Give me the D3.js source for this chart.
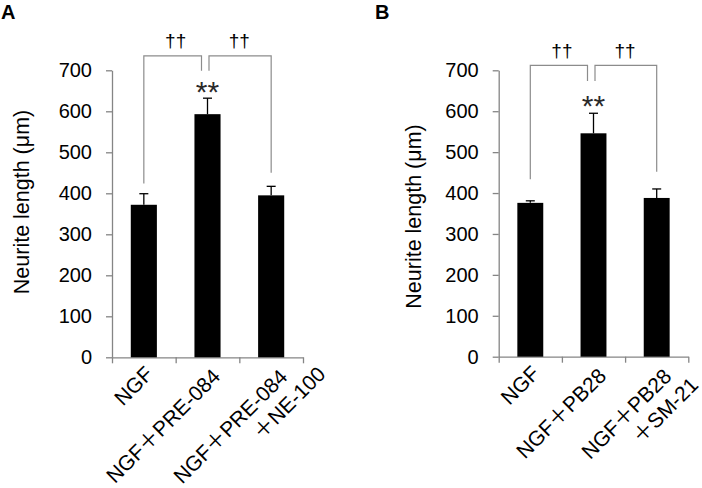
<!DOCTYPE html>
<html><head><meta charset="utf-8">
<script src="https://cdn.jsdelivr.net/npm/d3@7"></script>
<style>
html,body{margin:0;padding:0;background:#fff;}
svg{display:block;}
text{font-family:"Liberation Sans",Arial,"Noto Sans CJK JP",sans-serif;}
</style></head>
<body>
<svg id="chart" width="702" height="488"></svg>
<script>
// ---- data ----
const categoriesA = ["NGF", "NGF＋PRE-084", "NGF＋PRE-084\n＋NE-100"];
const valuesA = [372, 593, 395];
const errorsA = [27, 39, 22];
const starsA = ["", "**", ""];
const bracketsA = [[0, 1, 424, 699], [1, 2, 699, 450]]; // from, to, leg-end values
const bracketTopA = 735;

const categoriesB = ["NGF", "NGF＋PB28", "NGF＋PB28\n＋SM-21"];
const valuesB = [376, 546, 388];
const errorsB = [5, 49, 22];
const starsB = ["", "**", ""];
const bracketsB = [[0, 1, 434, 674], [1, 2, 674, 452]];
const bracketTopB = 712;

const yTicks = [0, 100, 200, 300, 400, 500, 600, 700];
const yTitle = "Neurite length (μm)";
const sigLabel = "††";
const panelLetters = ["A", "B"];

const svg = d3.select("#chart");
const axisColor = "#858585";

function panel(cfg) {
  const g = svg.append("g");
  const y = d3.scaleLinear().domain([0, 700]).range([cfg.y0, cfg.y1]);
  const x = d3.scaleBand().domain(d3.range(cfg.cats.length))
    .range([cfg.x0, cfg.x1]).paddingInner(0.59).paddingOuter(0.295);
  const xb = d3.scaleLinear().domain([0, cfg.cats.length]).range([cfg.x0, cfg.x1]);
  const cx = i => x(i) + x.bandwidth() / 2;

  // y axis
  const ya = g.append("g").attr("transform", `translate(${cfg.x0},0)`)
    .call(d3.axisLeft(y).tickValues(yTicks).tickSize(6).tickSizeOuter(0).tickPadding(14));
  ya.selectAll("path,line").attr("stroke", axisColor).attr("stroke-width", 1.3);
  ya.selectAll("text").attr("font-size", 20).attr("fill", "#000")
    .attr("font-family", '"Liberation Sans",Arial,sans-serif');

  // x axis (ticks at category boundaries)
  const xa = g.append("g").attr("transform", `translate(0,${cfg.y0})`)
    .call(d3.axisBottom(xb).tickValues(d3.range(cfg.cats.length + 1)).tickSize(6).tickSizeOuter(0).tickFormat(""));
  xa.selectAll("path,line").attr("stroke", axisColor).attr("stroke-width", 1.3);

  // bars
  g.selectAll("rect.bar").data(cfg.vals).join("rect")
    .attr("x", (d, i) => x(i)).attr("width", x.bandwidth())
    .attr("y", d => y(d)).attr("height", d => y(0) - y(d)).attr("fill", "#000");

  // error bars
  cfg.vals.forEach((v, i) => {
    g.append("line").attr("x1", cx(i)).attr("x2", cx(i))
      .attr("y1", y(v)).attr("y2", y(v + cfg.errs[i])).attr("stroke", "#000").attr("stroke-width", 1.3);
    g.append("line").attr("x1", cx(i) - 4.5).attr("x2", cx(i) + 4.5)
      .attr("y1", y(v + cfg.errs[i])).attr("y2", y(v + cfg.errs[i])).attr("stroke", "#000").attr("stroke-width", 1.3);
    if (cfg.stars[i]) {
      g.append("text").attr("x", cx(i)).attr("y", y(v + cfg.errs[i]) - cfg.starGap)
        .attr("text-anchor", "middle").attr("font-size", 30).attr("font-weight", 200)
        .attr("font-family", '"DejaVu Sans",sans-serif')
        .attr("fill", "#2a2a2a").text(cfg.stars[i]);
    }
  });

  // brackets
  cfg.brackets.forEach(([a, b, va, vb]) => {
    const xa0 = cx(a) + (a === 1 ? 1.5 : 0);
    const xb0 = cx(b) + (b === 1 ? -6 : 0);
    const yt = y(cfg.btop);
    g.append("path")
      .attr("d", `M${xa0},${y(va)}V${yt}H${xb0}V${y(vb)}`)
      .attr("fill", "none").attr("stroke", "#8c8c8c").attr("stroke-width", 1.2);
    g.append("text").attr("x", (cx(a) + cx(b)) / 2).attr("y", yt - 8.5)
      .attr("text-anchor", "middle").attr("font-size", 19).attr("fill", "#000").text(sigLabel);
  });

  // x labels
  const offs = [[10.5, 18], [14, 20.5], [cfg.lab3dx, 21]];
  cfg.cats.forEach((c, i) => {
    const lines = c.split("\n");
    const t = g.append("text")
      .attr("transform", `translate(${cx(i) + offs[i][0]},${cfg.y0 + offs[i][1]}) rotate(-45)`)
      .attr("text-anchor", "end").attr("font-size", 21).attr("fill", "#000");
    lines.forEach((l, k) => {
      t.append("tspan").attr("x", k === 0 ? 0 : cfg.line2dx).attr("dy", k === 0 ? 0 : 25).text(l);
    });
  });

  // y title
  g.append("text").attr("transform", `translate(${cfg.titleX},${cfg.titleY}) rotate(-90)`)
    .attr("text-anchor", "middle").attr("font-size", 21.5).attr("fill", "#000").text(yTitle);

  // panel letter
  g.append("text").attr("x", cfg.letterX).attr("y", 19).attr("font-size", 20)
    .attr("font-weight", "bold").attr("fill", "#000").text(cfg.letter);
}

panel({cats: categoriesA, vals: valuesA, errs: errorsA, stars: starsA, brackets: bracketsA, btop: bracketTopA,
  x0: 112, x1: 303, y0: 357.3, y1: 70.3, starGap: -3.5, line2dx: 29, lab3dx: 17.5, titleX: 29, titleY: 202, letterX: 1, letter: panelLetters[0]});
panel({cats: categoriesB, vals: valuesB, errs: errorsB, stars: starsB, brackets: bracketsB, btop: bracketTopB,
  x0: 498.7, x1: 688.3, y0: 356.7, y1: 70.3, starGap: -2.3, line2dx: 13, lab3dx: 16, titleX: 420.5, titleY: 216.5, letterX: 375, letter: panelLetters[1]});
</script>
</body></html>
